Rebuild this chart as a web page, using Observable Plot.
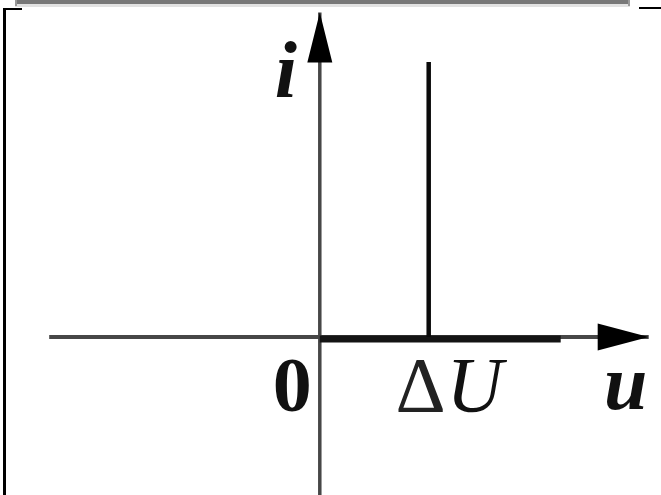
<!DOCTYPE html>
<html>
<head>
<meta charset="utf-8">
<script src="https://cdn.jsdelivr.net/npm/d3@7"></script>
<script src="https://cdn.jsdelivr.net/npm/@observablehq/plot@0.6"></script>
<style>
  html, body { margin: 0; padding: 0; background: #fff; }
  #wrap { position: relative; width: 661px; height: 495px; overflow: hidden; }
  #wrap svg { position: absolute; left: 0; top: 0; }
  .deco { position: absolute; }
</style>
</head>
<body>
<div id="wrap">
  <div class="deco" style="left:15px;top:0;width:615px;height:4px;background:#787878;"></div>
  <div class="deco" style="left:15px;top:4px;width:615px;height:3px;background:#e2e2e2;"></div>
  <div class="deco" style="left:15px;top:0;width:2px;height:6px;background:#999;"></div>
  <div class="deco" style="left:628px;top:0;width:2px;height:6px;background:#999;"></div>
  <div class="deco" style="left:3px;top:9px;width:3px;height:486px;background:#000;"></div>
  <div class="deco" style="left:3px;top:8px;width:19px;height:2px;background:#000;"></div>
  <div class="deco" style="left:639px;top:7px;width:22px;height:2px;background:#000;"></div>
</div>
<script>
// ---- data (schematic units) ----
const uAxis = [-2.46, 2.99];      // extent of the u axis (left end, arrow tip)
const iAxis = [-1.45, 2.95];      // extent of the i axis (bottom end, arrow tip)
const deltaU = 0.99;              // position of ΔU on the u axis
const iPeak = 2.5;                // height of the vertical current line
const thickEnd = 2.19;            // right end of the thick segment along u
const labelI = "i";
const labelU = "u";
const labelZero = "0";
const labelDelta = "Δ";
const labelUcap = "U";

// ---- derived tables ----
const links = {
  uAxisLine: [{x1: uAxis[0], y1: 0, x2: uAxis[1], y2: 0}],
  iAxisLine: [{x1: 0, y1: iAxis[0], x2: 0, y2: iAxis[1]}],
  thick: [{x1: 0, y1: 0, x2: thickEnd, y2: 0}],
  spike: [{x1: deltaU, y1: 0, x2: deltaU, y2: iPeak}]
};

const headUp = {
  draw(ctx) { ctx.moveTo(0, 0); ctx.lineTo(-12.5, 50); ctx.lineTo(12.5, 50); ctx.closePath(); }
};
const headRight = {
  draw(ctx) { ctx.moveTo(0, 0); ctx.lineTo(-51, -13.5); ctx.lineTo(-51, 13.5); ctx.closePath(); }
};

const font = '"Liberation Serif", "Times New Roman", serif';

const chart = Plot.plot({
  width: 661,
  height: 495,
  margin: 0,
  x: {domain: [-319.3 / 110, 341.7 / 110], axis: null},
  y: {domain: [-158.5 / 110, 336.5 / 110], axis: null},
  style: {background: "transparent", fontFamily: font},
  marks: [
    Plot.link(links.uAxisLine, {x1: "x1", y1: "y1", x2: "x2", y2: "y2", stroke: "#474747", strokeWidth: 4}),
    Plot.link(links.iAxisLine, {x1: "x1", y1: "y1", x2: "x2", y2: "y2", stroke: "#474747", strokeWidth: 3.5}),
    Plot.link(links.thick, {x1: "x1", y1: "y1", x2: "x2", y2: "y2", stroke: "#141414", strokeWidth: 7, dy: 2}),
    Plot.link(links.spike, {x1: "x1", y1: "y1", x2: "x2", y2: "y2", stroke: "#0a0a0a", strokeWidth: 4.5}),
    Plot.dot([{x: 0, y: iAxis[1]}], {x: "x", y: "y", symbol: headUp, fill: "#000", stroke: "none"}),
    Plot.dot([{x: uAxis[1], y: 0}], {x: "x", y: "y", symbol: headRight, fill: "#000", stroke: "none"}),
    Plot.text([labelI], {x: 0, y: iAxis[1], text: d => d, dx: -34, dy: 84, lineAnchor: "bottom",
      fontSize: 80, fontStyle: "italic", fontWeight: "bold", fill: "#111"}),
    Plot.text([labelZero], {x: 0, y: 0, text: d => d, dx: -27.5, dy: 73.5, lineAnchor: "bottom",
      fontSize: 78, fontWeight: "bold", fill: "#111"}),
    Plot.text([labelU], {x: uAxis[1], y: 0, text: d => d, dx: -23, dy: 71.5, lineAnchor: "bottom",
      fontSize: 78, fontStyle: "italic", fontWeight: "bold", fill: "#111"}),
    Plot.text([labelDelta], {x: deltaU, y: 0, text: d => d, dx: -8, dy: 73.5, lineAnchor: "bottom",
      textAnchor: "middle", fontSize: 78, fill: "#222"}),
    Plot.text([labelUcap], {x: deltaU, y: 0, text: d => d, dx: 46, dy: 73.5, lineAnchor: "bottom",
      textAnchor: "middle", fontSize: 78, fontStyle: "italic", fill: "#111"})
  ]
});
document.getElementById("wrap").appendChild(chart);
</script>
</body>
</html>
